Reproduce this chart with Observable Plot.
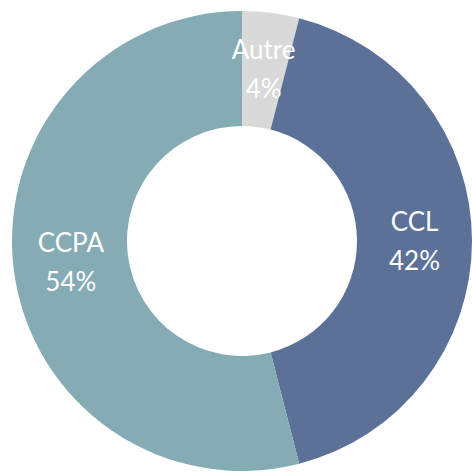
<!DOCTYPE html>
<html>
<head>
<meta charset="utf-8">
<script src="https://cdn.jsdelivr.net/npm/d3@7"></script>
<script src="https://cdn.jsdelivr.net/npm/@observablehq/plot@0.6"></script>
<style>
  html, body { margin: 0; padding: 0; background: #fff; }
</style>
</head>
<body>
<div id="chart"></div>
<script>
const labels = ["Autre", "CCL", "CCPA"];
const values = [4, 42, 54];
const colors = ["#D9D9D9", "#5C7198", "#85ABB5"];

const data = labels.map((label, i) => ({label, value: values[i]}));

const W = 472, H = 472;
const cx = 242, cy = 241, outerR = 230, innerR = 115;

const chart = Plot.plot({
  width: W,
  height: H,
  margin: 0,
  x: {axis: null, domain: [0, 1]},
  y: {axis: null, domain: [0, 1]},
  color: {domain: labels, range: colors},
  marks: [
    Plot.dot(data, {
      x: () => 0.5,
      y: () => 0.5,
      fill: "label",
      render: (index, scales, chans, dims) => {
        const pie = d3.pie().sort(null).value(d => d.value)(data);
        const arc = d3.arc().innerRadius(innerR).outerRadius(outerR);
        const g = d3.create("svg:g").attr("transform", `translate(${cx},${cy})`);
        g.selectAll("path")
          .data(pie)
          .join("path")
          .attr("d", arc)
          .attr("fill", (d, i) => chans.fill[index[i]]);
        const t = g.selectAll("text")
          .data(pie)
          .join("text")
          .attr("transform", d => `translate(${arc.centroid(d)})`)
          .attr("text-anchor", "middle")
          .attr("fill", "#fff")
          .style("font-family", "Lato, 'Open Sans', sans-serif")
          .style("font-size", "26px");
        t.append("tspan").attr("x", 0).attr("y", -19.5).attr("dy", "0.35em").text(d => d.data.label);
        t.append("tspan").attr("x", 0).attr("y", 19.5).attr("dy", "0.35em").text(d => d.data.value + "%");
        return g.node();
      }
    })
  ]
});
document.getElementById("chart").appendChild(chart);
</script>
</body>
</html>
